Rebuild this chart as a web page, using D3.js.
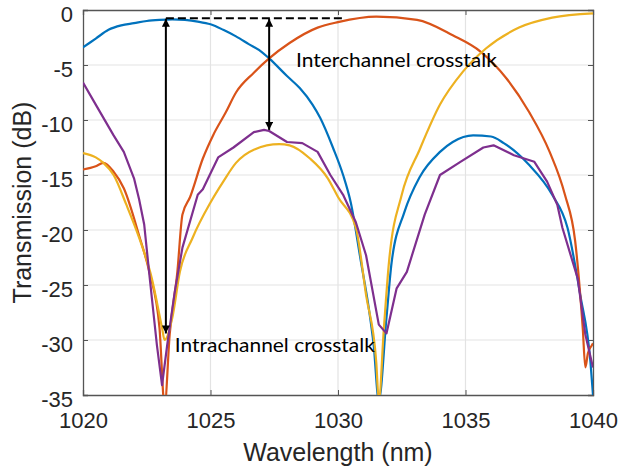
<!DOCTYPE html>
<html><head><meta charset="utf-8">
<script src="https://cdn.jsdelivr.net/npm/d3@7"></script>
<style>body{margin:0;background:#fff}svg{display:block}</style>
</head><body>
<svg id="c" width="620" height="475"></svg>
<script>
const xTicks = [1020, 1025, 1030, 1035, 1040];
const yTicks = [0, -5, -10, -15, -20, -25, -30, -35];

const blueX = [1020,1020.5,1021,1021.5,1022,1022.5,1023,1023.5,1024,1024.5,1025,1025.5,1026,1026.5,1027,1027.3,1028,1028.5,1029,1029.3,1029.8,1030.2,1030.5,1030.9,1031.2,1031.4,1031.6,1031.9,1032.1,1032.6,1033.2,1034,1034.5,1035.3,1036,1036.5,1037.5,1038.4,1039,1039.5,1039.9,1040];
const blueY = [-3.4,-2.6,-1.8,-1.4,-1.2,-1.0,-0.9,-0.85,-0.9,-1.05,-1.3,-1.8,-2.4,-3.1,-3.8,-4.4,-6.0,-7.1,-8.6,-9.8,-12.5,-15,-17.5,-22.9,-27,-30.5,-35.5,-28,-23,-18.4,-15.2,-12.9,-12.0,-11.4,-11.5,-12.1,-14.1,-16.8,-19.8,-25.9,-32,-35];

const orangeX = [1020,1020.5,1020.8,1021.2,1021.6,1022.2,1022.6,1023.0,1023.2,1023.4,1023.7,1023.9,1024.2,1024.7,1025.1,1025.6,1026.0,1026.7,1027.3,1028.1,1029.2,1030,1031.5,1033.1,1034.5,1035.6,1036.6,1037.5,1038.3,1038.9,1039.3,1039.6,1039.7,1039.8,1039.95,1040];
const orangeY = [-14.5,-14.2,-13.9,-14.7,-16.2,-20.5,-23.8,-28.9,-36,-29.5,-23.8,-18.6,-17.0,-13.5,-11.4,-9.3,-7.5,-5.7,-4.4,-3.0,-1.6,-1.1,-0.6,-0.9,-2.3,-3.8,-6.2,-9.3,-12.9,-16.8,-21,-29,-32.5,-31.2,-30.5,-30.3];

const yellowX = [1020,1020.5,1020.8,1021.2,1021.7,1022.2,1022.7,1023.1,1023.2,1023.5,1023.8,1024.3,1025.0,1025.5,1026.0,1026.7,1027.7,1028.1,1028.9,1029.6,1030.0,1030.7,1031.1,1031.5,1031.6,1031.8,1032.0,1032.5,1033.2,1034.0,1034.9,1035.8,1037.1,1038.4,1040];
const yellowY = [-13,-13.4,-13.9,-15,-17.7,-20.7,-24.4,-28.9,-30,-28,-23.8,-20.7,-17.5,-15.6,-13.9,-12.7,-12.2,-12.3,-13.5,-15.3,-17,-19.8,-25.9,-32,-35.5,-28.9,-22.9,-16.8,-12.7,-8.6,-5.6,-3.5,-1.6,-0.7,-0.3];

const purpleX = [1020,1020.5,1021.2,1021.6,1022.0,1022.2,1022.4,1022.6,1022.9,1023.1,1023.3,1023.6,1023.9,1024.5,1024.7,1025.3,1025.9,1026.7,1027.1,1027.3,1028.0,1028.6,1029.2,1029.7,1030.2,1030.7,1031.1,1031.6,1031.9,1032.3,1032.7,1033.4,1034.0,1034.8,1035.7,1036.1,1036.9,1037.7,1038.2,1038.6,1038.8,1039.4,1039.7,1040];
const purpleY = [-6.6,-8.6,-11.4,-12.9,-15.3,-17.2,-19.5,-24,-30.5,-34.1,-30.5,-25.6,-21.6,-16.8,-16.3,-13.4,-12.5,-11.1,-10.9,-11.0,-12.0,-12.1,-12.9,-15,-16.8,-19.3,-22.3,-28.6,-29.4,-25.3,-23.8,-18.6,-15,-13.8,-12.5,-12.3,-13.2,-13.8,-15.6,-17.7,-19.8,-24.4,-29.5,-32.5];

const seriesColors = ["#0072BD", "#D95319", "#EDB120", "#7E2F8E"];

// annotation values
const arrow1X = 1023.25, arrow1Top = -0.8, arrow1Bot = -29.4;
const arrow2X = 1027.3, arrow2Top = -0.8, arrow2Bot = -10.9;
const dashY = -0.75, dashX0 = 1023.25, dashX1 = 1030.3;
const interLabel = "Interchannel crosstalk", interAt = [1028.35, -5.2];
const intraLabel = "Intrachannel crosstalk", intraAt = [1023.6, -31.05];

const svg = d3.select("#c");
const L = 83, R = 593, T = 10, B = 395;
const x = d3.scaleLinear().domain([1020, 1040]).range([L, R]);
const y = d3.scaleLinear().domain([-35, 0]).range([B, T]);

svg.append("defs").append("clipPath").attr("id","clip")
  .append("rect").attr("x",L).attr("y",T).attr("width",R-L).attr("height",B-T);

const mk = svg.select("defs").append("marker").attr("id","ah")
  .attr("viewBox","0 0 10 10").attr("refX",10).attr("refY",5)
  .attr("markerWidth",8).attr("markerHeight",8).attr("markerUnits","userSpaceOnUse")
  .attr("orient","auto-start-reverse");
mk.append("path").attr("d","M0,0 L10,5 L0,10 Z").attr("fill","#000");

// grid
const g = svg.append("g");
g.selectAll("line.gx").data(xTicks.slice(1,-1)).join("line")
  .attr("x1",d=>x(d)).attr("x2",d=>x(d)).attr("y1",T).attr("y2",B)
  .attr("stroke","#e3e3e3").attr("stroke-width",1.2);
g.selectAll("line.gy").data(yTicks.slice(1,-1)).join("line")
  .attr("y1",d=>y(d)).attr("y2",d=>y(d)).attr("x1",L).attr("x2",R)
  .attr("stroke","#e3e3e3").attr("stroke-width",1.2);

// axes
const axCol = "#262626";
const fontAx = "'Liberation Sans', Arial, sans-serif";
const fmt = d => String(d);
const xb = svg.append("g").attr("transform",`translate(0,${B})`)
  .call(d3.axisBottom(x).tickValues(xTicks).tickSize(-5).tickPadding(17).tickFormat(fmt));
const xt = svg.append("g").attr("transform",`translate(0,${T})`)
  .call(d3.axisTop(x).tickValues(xTicks).tickSize(-5).tickFormat(""));
const yl = svg.append("g").attr("transform",`translate(${L},0)`)
  .call(d3.axisLeft(y).tickValues(yTicks).tickSize(-5).tickPadding(10).tickFormat(fmt));
const yr = svg.append("g").attr("transform",`translate(${R},0)`)
  .call(d3.axisRight(y).tickValues(yTicks).tickSize(-5).tickFormat(""));
[xb,xt,yl,yr].forEach(a=>{
  a.select(".domain").attr("stroke","#555").attr("stroke-width",1.3);
  a.selectAll(".tick line").attr("stroke","#555");
  a.selectAll("text").attr("fill",axCol).style("font-family",fontAx).style("font-size","22px");
});
xb.selectAll("text").attr("dy","0.71em");
yl.selectAll("text").attr("dy","0.5em");

// series
const plot = svg.append("g").attr("clip-path","url(#clip)");
const smooth = d3.line().x(d=>x(d[0])).y(d=>y(d[1])).curve(d3.curveMonotoneX);
const straight = d3.line().x(d=>x(d[0])).y(d=>y(d[1]));
const seriesData = [
  d3.zip(blueX, blueY), d3.zip(orangeX, orangeY), d3.zip(yellowX, yellowY), d3.zip(purpleX, purpleY)
];
seriesData.forEach((s,i)=>{
  plot.append("path").datum(s).attr("d", i === 3 ? straight : smooth).attr("fill","none")
    .attr("stroke",seriesColors[i]).attr("stroke-width",2.2).attr("stroke-linejoin","round");
});

// annotations
svg.append("line").attr("x1",x(dashX0)).attr("x2",x(dashX1)).attr("y1",y(dashY)).attr("y2",y(dashY))
  .attr("stroke","#000").attr("stroke-width",2).attr("stroke-dasharray","8,4");
[[arrow1X,arrow1Top,arrow1Bot],[arrow2X,arrow2Top,arrow2Bot]].forEach(a=>{
  svg.append("line").attr("x1",x(a[0])).attr("x2",x(a[0])).attr("y1",y(a[1])).attr("y2",y(a[2]))
    .attr("stroke","#000").attr("stroke-width",2)
    .attr("marker-start","url(#ah)").attr("marker-end","url(#ah)");
});
const fontAnn = "Lato, 'Open Sans', sans-serif";
svg.append("text").attr("x",x(interAt[0])).attr("y",y(interAt[1])).text(interLabel)
  .style("font-family",fontAnn).style("font-size","20px").attr("fill","#000")
  .attr("textLength",201).attr("lengthAdjust","spacingAndGlyphs");
svg.append("text").attr("x",x(intraAt[0])).attr("y",y(intraAt[1])).text(intraLabel)
  .style("font-family",fontAnn).style("font-size","20px").attr("fill","#000")
  .attr("textLength",200).attr("lengthAdjust","spacingAndGlyphs");

// axis titles
svg.append("text").attr("x",(L+R)/2).attr("y",461).attr("text-anchor","middle")
  .text("Wavelength (nm)").attr("fill",axCol).style("font-family",fontAx).style("font-size","25px");
svg.append("text").attr("transform",`translate(31,${(T+B)/2}) rotate(-90)`).attr("text-anchor","middle")
  .text("Transmission (dB)").attr("fill",axCol).style("font-family",fontAx).style("font-size","25px");
</script>
</body></html>
